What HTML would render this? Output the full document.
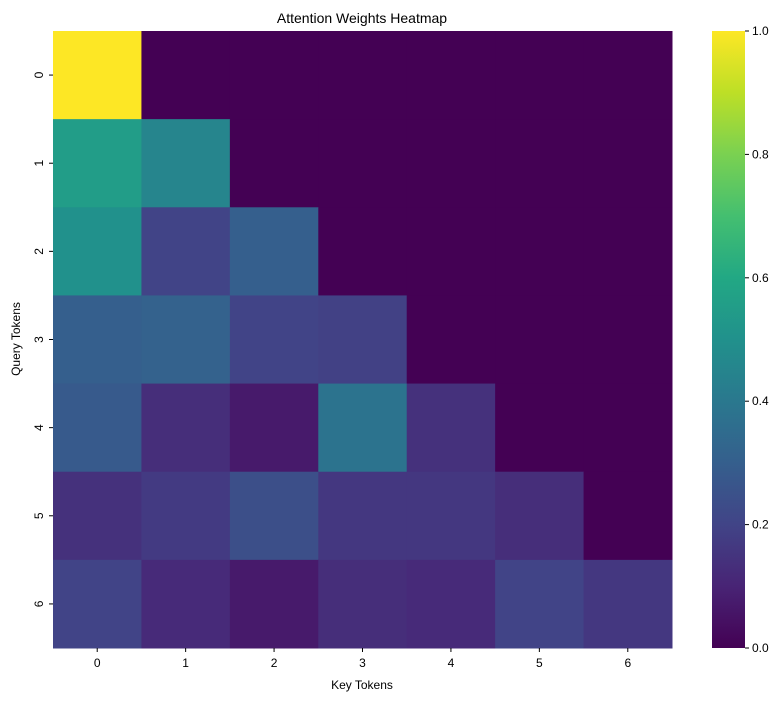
<!DOCTYPE html>
<html><head><meta charset="utf-8"><style>
body{margin:0;background:#fff}
svg text{font-family:"Liberation Sans","DejaVu Sans",sans-serif;fill:#000}
</style></head><body>
<svg id="chart" width="784" height="701" xmlns="http://www.w3.org/2000/svg">
<defs><linearGradient id="vg" x1="0" y1="1" x2="0" y2="0"></linearGradient></defs>
<text x="362" y="23" font-size="14" text-anchor="middle">Attention Weights Heatmap</text>
<text x="362" y="689" font-size="12" text-anchor="middle">Key Tokens</text>
<text transform="translate(20,339) rotate(-90)" font-size="12" text-anchor="middle">Query Tokens</text>
<g id="cells"></g><g id="axes"></g><g id="cbar"></g>
</svg>
<script>
const keyTokens=["0","1","2","3","4","5","6"];
const queryTokens=["0","1","2","3","4","5","6"];
const weights=[
[1.0,0,0,0,0,0,0],
[0.55,0.45,0,0,0,0,0],
[0.5,0.2,0.3,0,0,0,0],
[0.3,0.31,0.2,0.19,0,0,0],
[0.28,0.13,0.07,0.38,0.14,0,0],
[0.14,0.17,0.24,0.16,0.16,0.13,0],
[0.2,0.12,0.07,0.13,0.12,0.2,0.16]];
const cbarTicks=[0,0.2,0.4,0.6,0.8,1.0];
const stops=["#440154","#482475","#414487","#355f8d","#2a788e","#21918c","#22a884","#44bf70","#7ad151","#bddf26","#fde725"];
function hex(h){return [1,3,5].map(i=>parseInt(h.substr(i,2),16));}
function viridis(v){v=Math.max(0,Math.min(1,v));const p=v*10,i=Math.min(9,Math.floor(p)),t=p-i;const a=hex(stops[i]),b=hex(stops[i+1]);return `rgb(${a.map((c,k)=>Math.round(c+(b[k]-c)*t)).join(',')})`;}
const NS="http://www.w3.org/2000/svg";
function mk(tag,attrs,parent){const e=document.createElementNS(NS,tag);for(const k in attrs)e.setAttribute(k,attrs[k]);parent.appendChild(e);return e;}
const L=53,T=31,W=619,H=617;
const cw=W/keyTokens.length,ch=H/queryTokens.length;
const xPos=i=>L+i*cw, yPos=j=>T+j*ch;
const cells=document.getElementById('cells'),axes=document.getElementById('axes'),cb=document.getElementById('cbar');
weights.forEach((row,j)=>row.forEach((v,i)=>{
 const r=mk('rect',{x:xPos(i),y:yPos(j),width:cw+0.5,height:ch+0.5,fill:viridis(v)},cells);
 
 
}));
keyTokens.forEach((k,i)=>{const x=xPos(i)+cw/2;
 mk('line',{x1:x,x2:x,y1:T+H,y2:T+H+4,stroke:'#000'},axes);
 const t=mk('text',{x:x,y:T+H+19,'font-size':12,'text-anchor':'middle'},axes);t.textContent=k;
 
 
});
queryTokens.forEach((q,j)=>{const y=yPos(j)+ch/2;
 mk('line',{x1:L-4,x2:L,y1:y,y2:y,stroke:'#000'},axes);
 const t=mk('text',{transform:`translate(${L-10},${y}) rotate(-90)`,'font-size':12,'text-anchor':'middle'},axes);t.textContent=q;
 
 
});
const g=document.getElementById('vg');
stops.forEach((c,i)=>mk('stop',{offset:(i*10)+'%','stop-color':c},g));
const cx=712,cwid=33;
const cr=mk('rect',{x:cx,y:T,width:cwid,height:H,fill:'url(#vg)'},cb);


const cy=v=>T+H-v*H;
cbarTicks.forEach(v=>{const y=cy(v);
 mk('line',{x1:cx+cwid,x2:cx+cwid+4,y1:y,y2:y,stroke:'#000'},cb);
 const t=mk('text',{x:cx+cwid+7,y:y+4,'font-size':12},cb);t.textContent=v.toFixed(1);
 
 
});
</script>
</body></html>
